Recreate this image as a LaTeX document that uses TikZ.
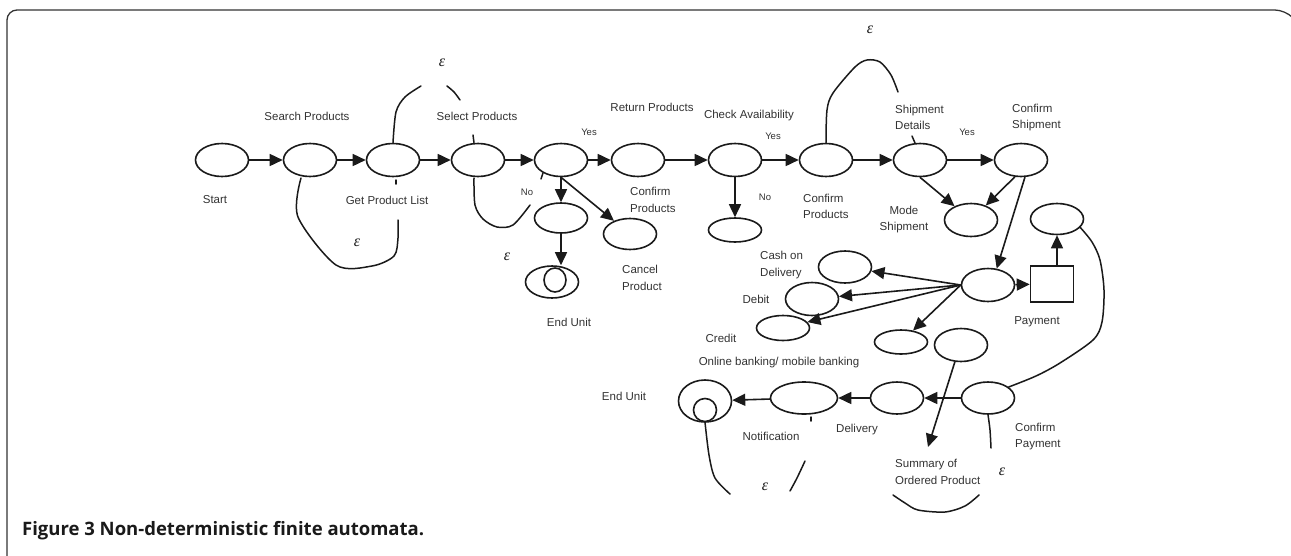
\documentclass[tikz,border=0pt]{standalone}
\usepackage{fontspec}
\setmainfont{Liberation Sans}
\newfontfamily\capfont{Open Sans}
\newfontfamily\epsfont{Liberation Serif}
\usetikzlibrary{shapes.geometric,arrows.meta}
\definecolor{ink}{HTML}{1A1A1A}
\definecolor{txt}{HTML}{333333}
\definecolor{framecol}{HTML}{333333}
\begin{document}
\begin{tikzpicture}[x=1pt,y=-1pt,
  st/.style={ellipse,draw=ink,line width=1.6pt,inner sep=0,minimum width=53pt,minimum height=33pt},
  arr/.style={draw=ink,line width=1.6pt,-{Triangle[length=13pt,width=12pt]}},
  loopline/.style={draw=ink,line width=1.5pt,line cap=round},
  lab/.style={inner sep=0,text=txt,font=\fontsize{11.5}{16.5}\selectfont},
  lbl/.style={lab,align=left,anchor=west},
  sm/.style={inner sep=0,text=txt,font=\fontsize{9.5}{11}\selectfont},
  eps/.style={inner sep=0,text=ink,font=\epsfont\itshape\fontsize{16}{16}\selectfont}
]
\useasboundingbox (0,0) rectangle (1291,555);
\fill[white] (0,0) rectangle (1291,555);
% frame
\draw[framecol,line width=1.3pt,rounded corners=10pt] (7,560) -- (7,10) -- (1285,10) -- (1295,20);

% top row of states
\node[st] (s0) at (222,160) {};
\node[st] (s1) at (310,160) {};
\node[st] (s2) at (393,160) {};
\node[st] (s3) at (478,160) {};
\node[st] (s4) at (561,160) {};
\node[st] (s5) at (638,160) {};
\node[st] (s6) at (735,160) {};
\node[st] (s7) at (826,160) {};
\node[st] (s8) at (920,160) {};
\node[st] (s9) at (1021,160) {};

% branches below
\node[st,minimum height=30pt] (d1) at (561,218) {};
\node[st,minimum height=32pt] (e1) at (552,282) {};
\node[ellipse,draw=ink,line width=1.6pt,inner sep=0,minimum width=22pt,minimum height=24pt] (e1i) at (555,280) {};
\node[st,minimum height=31pt] (c1) at (630,234) {};
\node[st,minimum height=24pt] (n1) at (735,230) {};
\node[st] (m1) at (971,220) {};
\node[st,minimum height=31pt] (p1) at (1057,219) {};

% payment part
\node[st] (h1) at (988,285) {};
\node[draw=ink,line width=1.6pt,inner sep=0,minimum width=43pt,minimum height=36pt] (sq) at (1052,284) {};
\node[st,minimum height=32pt] (cod) at (845,267) {};
\node[st] (deb) at (812,299) {};
\node[st,minimum height=25pt] (cre) at (783,328) {};
\node[st,minimum height=24pt] (ob) at (901,342) {};
\node[st] (sm) at (961,345) {};

% bottom row
\node[st,minimum height=42pt] (eu) at (705,401) {};
\node[circle,draw=ink,line width=1.6pt,inner sep=0,minimum size=23pt] (eui) at (705,410) {};
\node[st,minimum width=67pt,minimum height=32pt] (nt) at (804,398) {};
\node[st,minimum height=32pt] (dl) at (897,398) {};
\node[st,minimum height=32pt] (cp) at (988,398) {};

% transitions
\draw[arr] (s0) -- (s1);
\draw[arr] (s1) -- (s2);
\draw[arr] (s2) -- (s3);
\draw[arr] (s3) -- (s4);
\draw[arr] (s4) -- (s5);
\draw[arr] (s5) -- (s6);
\draw[arr] (s6) -- (s7);
\draw[arr] (s7) -- (s8);
\draw[arr] (s8) -- (s9);
\draw[arr] (s4) -- (d1);
\draw[arr] (d1.south) -- (d1.south |- e1.north);
\draw[arr] (s4.south) -- (c1);
\draw[arr] (s6) -- (n1);
\draw[arr] (s8.south) -- (m1);
\draw[arr] (s9.250) -- (m1);
\draw[arr] (s9.283) -- (h1.62);
\draw[arr] (h1) -- (sq);
\draw[arr] (sq.north -| p1.south) -- (p1.south);
\draw[arr] (h1.west) -- (cod);
\draw[arr] (h1.west) -- (deb);
\draw[arr] (h1.west) -- (cre);
\draw[arr] (h1.west) -- (ob);
\draw[arr] (cp) -- (dl);
\draw[arr] (dl) -- (nt);
\draw[arr] (nt) -- (eu);
\coordinate (sumtip) at (928,447);
\draw[arr] (sm.250) -- (sumtip);

% epsilon arcs
\coordinate (g1) at (421,86);
\coordinate (g2) at (447,86);
\draw[loopline] plot[smooth] coordinates {(s2.north) (396,112) (405,97) (g1)};
\draw[loopline] plot[smooth] coordinates {(g2) (454,92) (460,100)};
\draw[loopline] (473,135) -- (s3.north -| 474,0);
\draw[loopline] plot[smooth] coordinates {(301,178) (298,217) (336,265) (372,266) (394,256) (398,238) (398,220)};
\draw[loopline] (396,180) -- (396,184);
\draw[loopline] plot[smooth] coordinates {(474,178) (475,205) (483,219) (497,227) (513,225) (530,205)};
\draw[loopline] (543,173) -- (541,179);
\draw[loopline] plot[smooth] coordinates {(s7.north) (827,110) (833,93) (855,67) (867,60) (880,62) (891,75) (898,92)};
\draw[loopline] (912,136) -- (915,143);
\draw[loopline] plot[smooth] coordinates {(cp.south) (990,430) (991,448)};
\draw[loopline] plot[smooth] coordinates {(893,495) (905,503) (918,510) (945,512) (965,506) (979,495)};
\draw[loopline] plot[smooth] coordinates {(eui.south) (709,455) (715,478) (730,494)};
\draw[loopline] plot[smooth] coordinates {(790,491) (797,478) (805,461)};
\draw[loopline] (811,417) -- (811,421);
\draw[loopline] plot[smooth] coordinates {(p1.-20) (1092,242) (1100,260) (1104,290) (1102,322) (1093,340) (1060,363) (1036,376) (cp.28)};

% state labels
\node[lab] (lstart) at (215,200) {Start};
\node[lab] (lsearch) at (307,116) {Search Products};
\node[lab] (lget) at (387,200) {Get Product List};
\node[lab] (lselect) at (477,116) {Select Products};
\node[lab] (lreturn) at (652,107) {Return Products};
\node[lab] (lcheck) at (749,116) {Check Availability};
\node[lbl] (lconf1) at (630,200) {Confirm\\Products};
\node[lbl] (lconf2) at (803,206.5) {Confirm\\Products};
\node[lbl] (lcancel) at (622,278) {Cancel\\Product};
\node[lab] (lend1) at (569,322) {End Unit};
\node[lbl] (lship) at (895,117.5) {Shipment\\Details};
\node[lbl] (lcship) at (1012,117.5) {Confirm\\Shipment};
\node[lab,align=center] (lmode) at (904,219.5) {Mode\\Shipment};
\node[lbl] (lcod) at (760,265) {Cash on\\Delivery};
\node[lab] (ldeb) at (756,299) {Debit};
\node[lab] (lcre) at (721,338) {Credit};
\node[lab] (lpay) at (1037,322) {Payment};
\node[lab] (lob) at (779,363) {Online banking/ mobile banking};
\node[lab] (lend2) at (624,396) {End Unit};
\node[lab] (lnot) at (771,436) {Notification};
\node[lab] (ldel) at (857,430) {Delivery};
\node[lbl] (lsum) at (895,472) {Summary of\\Ordered Product};
\node[lbl] (lcpay) at (1015,436.5) {Confirm\\Payment};

% guard labels
\node[sm] (no1) at (527,192) {No};
\node[sm] (yes1) at (589,132) {Yes};
\node[sm] (yes2) at (773,136) {Yes};
\node[sm] (no2) at (765,197) {No};
\node[sm] (yes3) at (967,132) {Yes};

% epsilon labels
\node[eps] (ep1) at (442,63) {ε};
\node[eps] (ep2) at (357,243) {ε};
\node[eps] (ep3) at (507,257) {ε};
\node[eps] (ep4) at (870,30) {ε};
\node[eps] (ep5) at (1002,472) {ε};
\node[eps] (ep6) at (765,487) {ε};

% caption
\node[anchor=base west,inner sep=0,text=ink,font=\capfont\bfseries\fontsize{18.5}{18.5}\selectfont] (cap) at (22,535) {Figure 3 Non-deterministic finite automata.};
\end{tikzpicture}
\end{document}
